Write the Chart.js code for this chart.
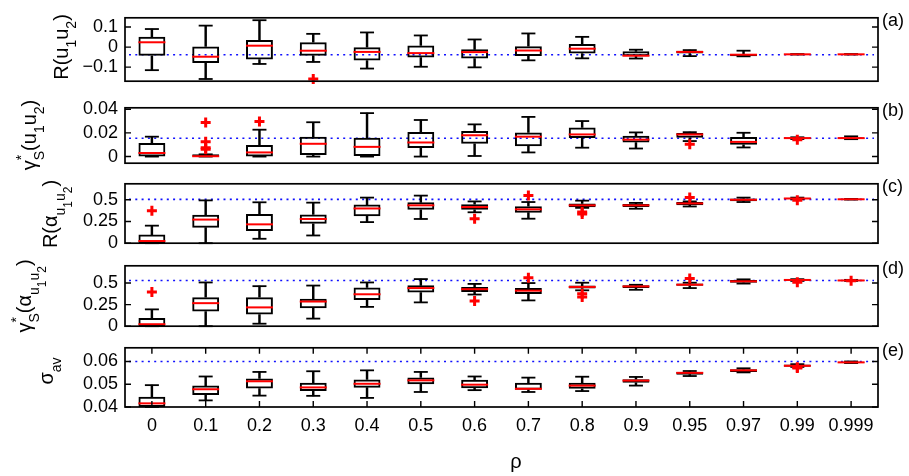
<!DOCTYPE html>
<html>
<head>
<meta charset="utf-8">
<script src="https://cdn.jsdelivr.net/npm/chart.js@4.4.1/dist/chart.umd.min.js"></script>
<style>
  html, body { margin: 0; padding: 0; background: #fff; }
  #wrap { position: relative; width: 909px; height: 476px; overflow: hidden; background: #fff; }
  #wrap canvas { position: absolute; left: 0; }
</style>
</head>
<body>
<div id="wrap"></div>
<script>
const rhoLabels = ['0', '0.1', '0.2', '0.3', '0.4', '0.5', '0.6', '0.7', '0.8', '0.9', '0.95', '0.97', '0.99', '0.999'];

// (a) R(u1u2)
const aLow  = [-0.115, -0.159, -0.084, -0.074, -0.107, -0.098, -0.101, -0.066, -0.056, -0.057, -0.045, -0.046, -0.037, -0.037];
const aQ1   = [-0.043, -0.079, -0.062, -0.043, -0.067, -0.052, -0.057, -0.045, -0.032, -0.046, -0.032, -0.046, -0.0375, -0.0375];
const aMed  = [0.024, -0.048, 0.007, -0.018, -0.024, -0.030, -0.025, -0.017, -0.008, -0.043, -0.024, -0.038, -0.036, -0.036];
const aQ3   = [0.051, 0.003, 0.035, 0.024, -0.001, 0.008, -0.011, 0.004, 0.016, -0.021, -0.018, -0.034, -0.035, -0.035];
const aHigh = [0.090, 0.107, 0.134, 0.066, 0.073, 0.058, 0.038, 0.068, 0.051, -0.013, -0.015, -0.018, -0.035, -0.035];
const aOut  = [{ x: '0.3', y: -0.159 }];
const aRef = -0.038;
const aTicks = [-0.1, 0, 0.1];
const aTickLabels = ['\u22120.1', '0', '0.1'];

// (b) gamma*_S(u1u2)
const bLow  = [0, 0, 0, 0, 0, 0, 0.0005, 0.0035, 0.0075, 0.0068, 0.0131, 0.0077, 0.0148, 0.0147];
const bQ1   = [0, 0, 0, 0.0014, 0.0005, 0.0072, 0.0108, 0.0087, 0.0157, 0.0119, 0.0159, 0.0100, 0.0151, 0.0149];
const bMed  = [0.0030, 0.0003, 0.0035, 0.0108, 0.0082, 0.0119, 0.0180, 0.0168, 0.0187, 0.0143, 0.0187, 0.0124, 0.0156, 0.0156];
const bQ3   = [0.0115, 0.0019, 0.0098, 0.0168, 0.0159, 0.0208, 0.0215, 0.0204, 0.0246, 0.0176, 0.0199, 0.0166, 0.0161, 0.0161];
const bHigh = [0.0168, 0.0019, 0.0227, 0.0290, 0.0367, 0.0309, 0.0272, 0.0335, 0.0300, 0.0204, 0.0206, 0.0201, 0.0163, 0.0171];
const bOut  = [{ x: '0.1', y: 0.0288 }, { x: '0.1', y: 0.0125 }, { x: '0.1', y: 0.0075 }, { x: '0.1', y: 0.0062 },
               { x: '0.2', y: 0.0297 }, { x: '0.95', y: 0.0105 }, { x: '0.99', y: 0.0143 }];
const bRef = 0.0155;
const bTicks = [0, 0.02, 0.04];
const bTickLabels = ['0', '0.02', '0.04'];

// (c) R(alpha_u1u2)
const cLow  = [0, 0, 0.051, 0.089, 0.243, 0.279, 0.356, 0.282, 0.407, 0.397, 0.423, 0.474, 0.505, 0.502];
const cQ1   = [0, 0.179, 0.140, 0.224, 0.311, 0.385, 0.385, 0.352, 0.413, 0.416, 0.438, 0.484, 0.508, 0.503];
const cMed  = [0.025, 0.272, 0.217, 0.279, 0.400, 0.436, 0.416, 0.390, 0.436, 0.436, 0.458, 0.500, 0.515, 0.506];
const cQ3   = [0.099, 0.327, 0.336, 0.330, 0.445, 0.471, 0.448, 0.426, 0.458, 0.452, 0.474, 0.515, 0.520, 0.509];
const cHigh = [0.202, 0.493, 0.471, 0.467, 0.525, 0.548, 0.481, 0.474, 0.490, 0.464, 0.481, 0.525, 0.525, 0.510];
const cOut  = [{ x: '0', y: 0.375 }, { x: '0.6', y: 0.282 }, { x: '0.7', y: 0.548 }, { x: '0.8', y: 0.359 },
               { x: '0.8', y: 0.335 }, { x: '0.95', y: 0.525 }, { x: '0.99', y: 0.495 }];
const cRef = 0.505;
const cTicks = [0, 0.25, 0.5];
const cTickLabels = ['0', '0.25', '0.5'];

// (d) gamma*_S(alpha_u1u2)
const dLow  = [0, 0, 0.029, 0.088, 0.224, 0.276, 0.367, 0.299, 0.416, 0.422, 0.442, 0.494, 0.525, 0.525];
const dQ1   = [0, 0.169, 0.136, 0.208, 0.305, 0.390, 0.396, 0.373, 0.436, 0.442, 0.468, 0.504, 0.527, 0.525];
const dMed  = [0.023, 0.267, 0.218, 0.286, 0.370, 0.442, 0.429, 0.412, 0.455, 0.461, 0.481, 0.520, 0.536, 0.530];
const dQ3   = [0.094, 0.335, 0.335, 0.318, 0.448, 0.474, 0.455, 0.442, 0.471, 0.474, 0.494, 0.536, 0.540, 0.535];
const dHigh = [0.195, 0.507, 0.464, 0.471, 0.507, 0.546, 0.490, 0.500, 0.504, 0.480, 0.504, 0.543, 0.545, 0.537];
const dOut  = [{ x: '0', y: 0.396 }, { x: '0.6', y: 0.292 }, { x: '0.7', y: 0.562 }, { x: '0.8', y: 0.377 },
               { x: '0.8', y: 0.338 }, { x: '0.95', y: 0.553 }, { x: '0.99', y: 0.510 }, { x: '0.999', y: 0.528 }];
const dRef = 0.529;
const dTicks = [0, 0.25, 0.5];
const dTickLabels = ['0', '0.25', '0.5'];

// (e) sigma_av
const eLow  = [0.0400, 0.0429, 0.0450, 0.0449, 0.0440, 0.0466, 0.0474, 0.0466, 0.0470, 0.0494, 0.0536, 0.0552, 0.0576, 0.0593];
const eQ1   = [0.0400, 0.0453, 0.0481, 0.0470, 0.0485, 0.0500, 0.0482, 0.0476, 0.0480, 0.0506, 0.0542, 0.0554, 0.0577, 0.0594];
const eMed  = [0.0416, 0.0478, 0.0513, 0.0486, 0.0502, 0.0517, 0.0498, 0.0480, 0.0494, 0.0516, 0.0550, 0.0561, 0.0581, 0.0596];
const eQ3   = [0.0445, 0.0494, 0.0525, 0.0506, 0.0521, 0.0530, 0.0520, 0.0506, 0.0506, 0.0522, 0.0554, 0.0566, 0.0587, 0.0599];
const eHigh = [0.0496, 0.0534, 0.0554, 0.0557, 0.0561, 0.0554, 0.0534, 0.0529, 0.0533, 0.0532, 0.0558, 0.0570, 0.0588, 0.0600];
const eOut  = [{ x: '0.99', y: 0.0571 }, { x: '0.99', y: 0.0575 }];
const eRef = 0.0600;
const eTicks = [0.04, 0.05, 0.06];
const eTickLabels = ['0.04', '0.05', '0.06'];

const FONT = '"Liberation Sans", Arial, Helvetica, sans-serif';
Chart.defaults.font.family = FONT;
Chart.defaults.color = '#000';

// title pieces: [text, level, noAdvance]  level 0 normal, 1 sub, 2 sub-sub, -1 sup
const panels = [
  { tag: '(a)', top: 12, bottom: 87, min: -0.17, max: 0.146, low: aLow, q1: aQ1, med: aMed, q3: aQ3, high: aHigh, out: aOut, ref: aRef,
    ticks: aTicks, tickLabels: aTickLabels, titleX: 68, titleY: 47,
    title: [['R(u', 0], ['1', 1], ['u', 0], ['2', 1], [')', 0]] },
  { tag: '(b)', top: 102, bottom: 169, min: -0.0056, max: 0.0412, low: bLow, q1: bQ1, med: bMed, q3: bQ3, high: bHigh, out: bOut, ref: bRef,
    ticks: bTicks, tickLabels: bTickLabels, titleX: 36, titleY: 135,
    title: [['\u03b3', 0], ['*', -1, true], ['S', 1], ['(u', 0], ['1', 1], ['u', 0], ['2', 1], [')', 0]] },
  { tag: '(c)', top: 178, bottom: 249, min: 0, max: 0.684, low: cLow, q1: cQ1, med: cMed, q3: cQ3, high: cHigh, out: cOut, ref: cRef,
    ticks: cTicks, tickLabels: cTickLabels, titleX: 57, titleY: 214,
    title: [['R(\u03b1', 0], ['u', 1], ['1', 2], ['u', 1], ['2', 2], [')', 0]] },
  { tag: '(d)', top: 260, bottom: 332, min: 0, max: 0.7, low: dLow, q1: dQ1, med: dMed, q3: dQ3, high: dHigh, out: dOut, ref: dRef,
    ticks: dTicks, tickLabels: dTickLabels, titleX: 31, titleY: 296,
    title: [['\u03b3', 0], ['*', -1, true], ['S', 1], ['(\u03b1', 0], ['u', 1], ['1', 2], ['u', 1], ['2', 2], [')', 0]] },
  { tag: '(e)', top: 342, bottom: 407, min: 0.04, max: 0.066, low: eLow, q1: eQ1, med: eMed, q3: eQ3, high: eHigh, out: eOut, ref: eRef,
    ticks: eTicks, tickLabels: eTickLabels, titleX: 53, titleY: 371,
    title: [['\u03c3', 0], ['av', 1]] }
];

const levelSize = { '-1': 14, '0': 20, '1': 14, '2': 12 };
const levelShift = { '-1': -10, '0': 0, '1': 8, '2': 15 };

function drawRich(ctx, pieces, bx, cy) {
  ctx.save();
  ctx.fillStyle = '#000';
  ctx.textBaseline = 'alphabetic';
  ctx.textAlign = 'left';
  const widths = pieces.map(p => {
    ctx.font = levelSize[p[1]] + 'px ' + FONT;
    return ctx.measureText(p[0]).width;
  });
  let total = 0;
  pieces.forEach((p, i) => { if (!p[2]) total += widths[i]; });
  ctx.translate(bx, cy);
  ctx.rotate(-Math.PI / 2);
  let x = -total / 2;
  pieces.forEach((p, i) => {
    ctx.font = levelSize[p[1]] + 'px ' + FONT;
    ctx.fillText(p[0], x, levelShift[p[1]]);
    if (!p[2]) x += widths[i];
  });
  ctx.restore();
}

function decor(p, canvasTop, isLast) {
  return {
    id: 'decor',
    beforeDatasetsDraw(chart) {
      const { ctx, chartArea: a } = chart;
      const y = chart.scales.y.getPixelForValue(p.ref);
      ctx.save();
      ctx.strokeStyle = '#1010ff';
      ctx.lineWidth = 1.6;
      ctx.setLineDash([2, 4.3]);
      ctx.beginPath();
      ctx.moveTo(a.left + 4, y);
      ctx.lineTo(a.right - 4, y);
      ctx.stroke();
      ctx.restore();
    },
    afterDatasetsDraw(chart) {
      const { ctx, chartArea: a } = chart;
      const ys = chart.scales.y;
      ctx.save();
      ctx.strokeStyle = '#000';
      ctx.lineWidth = 1.7;
      ctx.strokeRect(a.left, a.top, a.right - a.left, a.bottom - a.top);
      ctx.lineWidth = 1.4;
      ctx.beginPath();
      ys.ticks.forEach(t => {
        const py = ys.getPixelForValue(t.value);
        ctx.moveTo(a.left, py); ctx.lineTo(a.left + 6, py);
        ctx.moveTo(a.right, py); ctx.lineTo(a.right - 6, py);
      });
      if (isLast) {
        const xs = chart.scales.x;
        rhoLabels.forEach((l, i) => {
          const px = xs.getPixelForValue(i);
          ctx.moveTo(px, a.top); ctx.lineTo(px, a.top + 6);
          ctx.moveTo(px, a.bottom); ctx.lineTo(px, a.bottom - 6);
        });
      }
      ctx.stroke();
      ctx.restore();
    },
    afterDraw(chart) {
      const { ctx, chartArea: a } = chart;
      drawRich(ctx, p.title, p.titleX, p.titleY - canvasTop);
      ctx.save();
      ctx.fillStyle = '#000';
      ctx.font = '18px ' + FONT;
      ctx.textBaseline = 'middle';
      ctx.textAlign = 'left';
      ctx.fillText(p.tag, a.right + 4, a.top + 3);
      if (isLast) {
        ctx.font = '20px ' + FONT;
        ctx.textAlign = 'center';
        ctx.fillText('\u03c1', 516, 462 - canvasTop);
      }
      ctx.restore();
    }
  };
}

const wrap = document.getElementById('wrap');

panels.forEach((p, k) => {
  const isLast = k === panels.length - 1;
  const canvasTop = p.top - 12;
  const height = isLast ? 476 - canvasTop : p.bottom - p.top + 24;
  const canvas = document.createElement('canvas');
  canvas.width = 909;
  canvas.height = height;
  canvas.style.top = canvasTop + 'px';
  wrap.appendChild(canvas);
  const padBottom = isLast ? height - (p.bottom - canvasTop) - 40 : 12;

  const capStyle = {
    type: 'line', showLine: false, pointStyle: 'line', pointRadius: 7,
    pointBorderWidth: 1.8, pointBorderColor: '#000', borderColor: '#000', clip: false
  };
  const whiskerStyle = { backgroundColor: '#000', borderWidth: 0, barThickness: 1.8, grouped: false };

  new Chart(canvas, {
    type: 'bar',
    data: {
      labels: rhoLabels,
      datasets: [
        { type: 'line', data: p.med, showLine: false, pointStyle: 'line', pointRadius: 13.5,
          pointBorderWidth: 2, pointBorderColor: '#ff0000', borderColor: '#ff0000', clip: false },
        { type: 'line', data: p.out, showLine: false, pointStyle: 'cross', pointRadius: 5,
          pointBorderWidth: 3, pointBorderColor: '#ff0000', borderColor: '#ff0000', clip: false },
        Object.assign({ data: p.high }, capStyle),
        Object.assign({ data: p.low }, capStyle),
        Object.assign({ data: p.q3.map((v, i) => [v, p.high[i]]) }, whiskerStyle),
        Object.assign({ data: p.low.map((v, i) => [v, p.q1[i]]) }, whiskerStyle),
        { data: p.q1.map((v, i) => [v, p.q3[i]]), backgroundColor: 'rgba(0,0,0,0)', borderColor: '#000',
          borderWidth: 2, borderSkipped: false, barPercentage: 0.5, categoryPercentage: 1, grouped: false }
      ]
    },
    options: {
      responsive: false,
      animation: false,
      events: [],
      layout: { autoPadding: false, padding: { left: 0, right: 31, top: 12, bottom: padBottom } },
      plugins: { legend: { display: false }, tooltip: { enabled: false } },
      scales: {
        x: {
          display: isLast,
          offset: true,
          grid: { display: false, drawTicks: false },
          border: { display: false },
          ticks: { font: { size: 18 }, color: '#000', padding: 8, maxRotation: 0, autoSkip: false },
          afterFit: s => { s.height = isLast ? 40 : 0; }
        },
        y: {
          min: p.min,
          max: p.max,
          grid: { display: false, drawTicks: false },
          border: { display: false },
          afterBuildTicks: s => { s.ticks = p.ticks.map(v => ({ value: v })); },
          ticks: {
            autoSkip: false,
            font: { size: 18 },
            color: '#000',
            padding: 7,
            callback: (v, i) => p.tickLabels[i]
          },
          afterFit: s => { s.width = 125; }
        }
      }
    },
    plugins: [decor(p, canvasTop, isLast)]
  });
});
</script>
</body>
</html>
